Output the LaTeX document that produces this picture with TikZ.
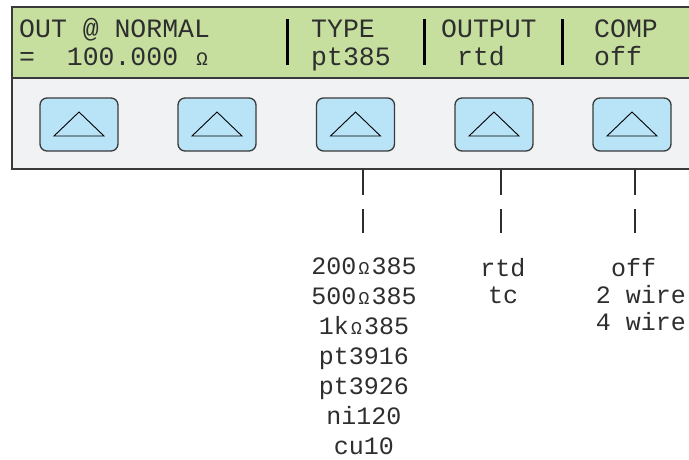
\documentclass[tikz,border=0pt]{standalone}
\usepackage{fontspec}
\usepackage{graphicx}
\setmonofont{Liberation Mono}
\definecolor{lcdgreen}{HTML}{C6DF9F}
\definecolor{panelgray}{HTML}{F1F2F4}
\definecolor{btnblue}{HTML}{B9E4F8}
\definecolor{edge}{HTML}{3A3A3A}
\definecolor{ink}{HTML}{2E2E2E}
\newcommand\om{\makebox[0.6em][c]{\scalebox{0.72}{Ω}}}
\begin{document}
\begin{tikzpicture}[x=1pt,y=-1pt,
  lcd/.style={font=\ttfamily\fontsize{26.5}{30}\selectfont, text=ink, inner sep=0pt, anchor=base west},
  sep/.style={line width=3pt, black},
  btn/.style={draw=edge, line width=1.3pt, fill=btnblue, rounded corners=7pt, minimum width=78pt, minimum height=53pt, inner sep=0pt},
  tri/.style={draw=black, line width=0.9pt},
  menu/.style={font=\ttfamily\fontsize{25}{30}\selectfont, text=ink, inner sep=0pt, align=center, anchor=base},
  conn/.style={draw=ink, line width=1.3pt, dash pattern=on 26pt off 14pt}]
\useasboundingbox (0,0) rectangle (689,459);
% panel
\fill[lcdgreen] (12,7) rectangle (695,78);
\fill[panelgray] (12,78) rectangle (695,169);
\draw[edge, line width=1.8pt] (12,7) rectangle (695,169);
\draw[edge, line width=1.5pt] (12,78) -- (695,78);
\node[inner sep=0pt, minimum width=683pt, minimum height=162pt, anchor=north west] (panel) at (12,7) {};
% display text
\node[lcd] (l1) at (19,37) {OUT @ NORMAL};
\node[lcd] (l2) at (19,65) {=\ \ 100.000 \om};
\node[lcd] (t1) at (311,37) {TYPE};
\node[lcd] (t2) at (311,65) {pt385};
\node[lcd] (o1) at (441,37) {OUTPUT};
\node[lcd] (o2) at (441,65) {\ rtd};
\node[lcd] (c1) at (594,37) {COMP};
\node[lcd] (c2) at (594,65) {off};
\draw[sep] (287,19) -- (287,65);
\draw[sep] (424,19) -- (424,65);
\draw[sep] (562,19) -- (562,65);
% buttons
\foreach \i/\cx in {1/79,2/217,3/355.5,4/494,5/632}{
  \node[btn] (b\i) at (\cx,124.5) {};
  \draw[tri] (\cx,112) -- (\cx+25,136) -- (\cx-25,136) -- cycle;
}
% menus (base anchor = baseline of the last line)
\node[menu] (mtype) at (364,454) {200\om385\\500\om385\\1k\om385\\pt3916\\pt3926\\ni120\\cu10};
\node[menu, font=\ttfamily\fontsize{25}{27}\selectfont] (mout) at (503,303) {rtd\\tc};
\node[menu, font=\ttfamily\fontsize{25}{27}\selectfont] (mcomp) at (641,330) {off\hspace*{0.6em}\\2 wire\\4 wire};
\coordinate (e3) at (363,233);
\coordinate (e4) at (501,233);
\coordinate (e5) at (635,233);
\draw[conn] (panel.south -| e3) -- (e3);
\draw[conn] (panel.south -| e4) -- (e4);
\draw[conn] (panel.south -| e5) -- (e5);
\end{tikzpicture}
\end{document}
